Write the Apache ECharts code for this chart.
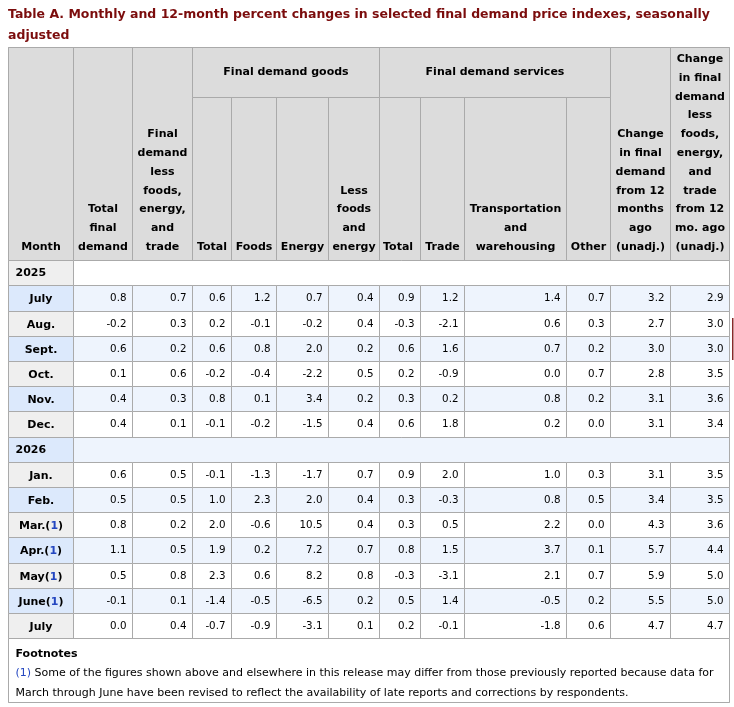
<!DOCTYPE html>
<html>
<head>
<meta charset="utf-8">
<title>Table A. Final demand price indexes</title>
<script src="https://cdn.jsdelivr.net/npm/echarts@6.0.0/dist/echarts.min.js"></script>
<style>
  html, body { margin: 0; padding: 0; background: #fff; }
  #chart { width: 734px; height: 707px; }
</style>
</head>
<body>
<div id="chart"></div>
<script>
// months shown in the table (July 2025 .. July 2026)
const months2025 = ["July", "Aug.", "Sept.", "Oct.", "Nov.", "Dec."];
const months2026 = ["Jan.", "Feb.", "Mar.", "Apr.", "May", "June", "July"];
// 2026 months marked with footnote (1)
const revisedMonths = ["Mar.", "Apr.", "May", "June"];

// one array per column, in month order
const totalFinalDemand = [0.8, -0.2, 0.6, 0.1, 0.4, 0.4, 0.6, 0.5, 0.8, 1.1, 0.5, -0.1, 0.0];
const lessFoodsEnergyTrade = [0.7, 0.3, 0.2, 0.6, 0.3, 0.1, 0.5, 0.5, 0.2, 0.5, 0.8, 0.1, 0.4];
const goodsTotal = [0.6, 0.2, 0.6, -0.2, 0.8, -0.1, -0.1, 1.0, 2.0, 1.9, 2.3, -1.4, -0.7];
const goodsFoods = [1.2, -0.1, 0.8, -0.4, 0.1, -0.2, -1.3, 2.3, -0.6, 0.2, 0.6, -0.5, -0.9];
const goodsEnergy = [0.7, -0.2, 2.0, -2.2, 3.4, -1.5, -1.7, 2.0, 10.5, 7.2, 8.2, -6.5, -3.1];
const goodsLessFoodsEnergy = [0.4, 0.4, 0.2, 0.5, 0.2, 0.4, 0.7, 0.4, 0.4, 0.7, 0.8, 0.2, 0.1];
const servicesTotal = [0.9, -0.3, 0.6, 0.2, 0.3, 0.6, 0.9, 0.3, 0.3, 0.8, -0.3, 0.5, 0.2];
const servicesTrade = [1.2, -2.1, 1.6, -0.9, 0.2, 1.8, 2.0, -0.3, 0.5, 1.5, -3.1, 1.4, -0.1];
const servicesTransport = [1.4, 0.6, 0.7, 0.0, 0.8, 0.2, 1.0, 0.8, 2.2, 3.7, 2.1, -0.5, -1.8];
const servicesOther = [0.7, 0.3, 0.2, 0.7, 0.2, 0.0, 0.3, 0.5, 0.0, 0.1, 0.7, 0.2, 0.6];
const change12Months = [3.2, 2.7, 3.0, 2.8, 3.1, 3.1, 3.1, 3.4, 4.3, 5.7, 5.9, 5.5, 4.7];
const changeCore12Months = [2.9, 3.0, 3.0, 3.5, 3.6, 3.4, 3.5, 3.5, 3.6, 4.4, 5.0, 5.0, 4.7];

const valueColumns = [
  totalFinalDemand, lessFoodsEnergyTrade,
  goodsTotal, goodsFoods, goodsEnergy, goodsLessFoodsEnergy,
  servicesTotal, servicesTrade, servicesTransport, servicesOther,
  change12Months, changeCore12Months
];

const footnoteLines = [
  "Some of the figures shown above and elsewhere in this release may differ from those previously reported because data for",
  "March through June have been revised to reflect the availability of late reports and corrections by respondents."
];

const FONT = "DejaVu Sans, Verdana, sans-serif";
const BORDER = "#aaaaaa";
const HEAD_BG = "#dcdcdc";
const MONTH_GRAY = "#efefef";
const MONTH_BLUE = "#dce9fc";
const ROW_BLUE = "#eef4fd";
const LINK = "#2346c0";

// column widths (px) and row height
const colW = [65.5, 59, 59.5, 39.5, 45, 52, 51, 41, 44, 102, 44, 59.5, 59];
const rowH = 25.2;

const headLabel = { position: "insideBottom", distance: 2, lineHeight: 18.8, lineOverflow: "none", overflow: "none" };

const xData = [
  { value: "Month", size: colW[0], label: headLabel },
  { value: "Total\nfinal\ndemand", size: colW[1], label: headLabel },
  { value: "Final\ndemand\nless\nfoods,\nenergy,\nand\ntrade", size: colW[2], label: headLabel },
  {
    value: "Final demand goods",
    children: [
      { value: "Total", size: colW[3], label: headLabel },
      { value: "Foods", size: colW[4], label: headLabel },
      { value: "Energy", size: colW[5], label: headLabel },
      { value: "Less\nfoods\nand\nenergy", size: colW[6], label: headLabel }
    ]
  },
  {
    value: "Final demand services",
    children: [
      { value: "Total ", size: colW[7], label: headLabel },
      { value: "Trade", size: colW[8], label: headLabel },
      { value: "Transportation\nand\nwarehousing", size: colW[9], label: headLabel },
      { value: "Other", size: colW[10], label: headLabel }
    ]
  },
  { value: "Change\nin final\ndemand\nfrom 12\nmonths\nago\n(unadj.)", size: colW[11], label: headLabel },
  { value: "Change\nin final\ndemand\nless\nfoods,\nenergy,\nand\ntrade\nfrom 12\nmo. ago\n(unadj.)", size: colW[12], label: headLabel }
];

// rows: year rows, month rows, footnote row
const rows = [];
rows.push({ year: "2025" });
months2025.forEach((m) => rows.push({ month: m, revised: false }));
rows.push({ year: "2026" });
months2026.forEach((m) => rows.push({ month: m, revised: revisedMonths.indexOf(m) >= 0 }));

const yData = rows.map((r, i) => ({ value: "r" + i, size: rowH }));
yData.push({ value: "notes", size: 64 });

// rich text is laid out from the top of the cell, so a near full-row line height centres it
const monthRich = {
  b: { fontFamily: FONT, fontWeight: "bold", fontSize: 11, color: "#000", lineHeight: 23 },
  l: { fontFamily: FONT, fontWeight: "bold", fontSize: 11, color: LINK, lineHeight: 23 }
};

const cells = [];
let k = 0;
rows.forEach((row, r) => {
  const blue = r % 2 === 1;
  const dataBg = blue ? ROW_BLUE : "#ffffff";
  const monthBg = blue ? MONTH_BLUE : MONTH_GRAY;
  if (row.year) {
    cells.push({
      coord: [0, r],
      value: row.year,
      itemStyle: { color: monthBg },
      label: { position: "insideLeft", distance: 4, fontWeight: "bold", fontSize: 11 }
    });
    cells.push({
      coord: [[1, 12], r],
      mergeCells: true,
      value: " ",
      itemStyle: { color: dataBg }
    });
    return;
  }
  cells.push({
    coord: [0, r],
    value: row.revised ? "{b|" + row.month + "(}{l|1}{b|)}" : "{b|" + row.month + "}",
    itemStyle: { color: monthBg },
    label: { position: "inside", rich: monthRich }
  });
  valueColumns.forEach((col, c) => {
    cells.push({
      coord: [c + 1, r],
      value: col[k].toFixed(1),
      itemStyle: { color: dataBg },
      label: { position: "insideRight", distance: 3 }
    });
  });
  k++;
});

cells.push({
  coord: [[0, 12], rows.length],
  mergeCells: true,
  value: "{h|Footnotes}\n{l|(1)}{t| " + footnoteLines[0] + "}\n{t|" + footnoteLines[1] + "}",
  itemStyle: { color: "#ffffff" },
  label: {
    position: "insideTopLeft",
    distance: 4,
    lineOverflow: "none",
    rich: {
      h: { fontFamily: FONT, fontWeight: "bold", fontSize: 11, color: "#000", lineHeight: 19 },
      l: { fontFamily: FONT, fontSize: 11, color: LINK, lineHeight: 20 },
      t: { fontFamily: FONT, fontSize: 11, color: "#000", lineHeight: 20 }
    }
  }
});

const chart = echarts.init(document.getElementById("chart"), null, { renderer: "canvas" });

chart.setOption({
  animation: false,
  title: {
    text: "Table A. Monthly and 12-month percent changes in selected final demand price indexes, seasonally\nadjusted",
    left: 8,
    top: 4,
    padding: 0,
    textStyle: { fontFamily: FONT, fontSize: 12.5, fontWeight: "bold", color: "#7b0c0c", lineHeight: 21 }
  },
  matrix: {
    left: 8,
    top: 47.5,
    width: 721,
    height: 50 + 163 + rowH * rows.length + 64,
    backgroundStyle: { color: "#ffffff", borderColor: BORDER, borderWidth: 1 },
    x: {
      data: xData,
      levels: [{ levelSize: 50 }, { levelSize: 163 }],
      label: { fontFamily: FONT, fontSize: 11, fontWeight: "bold", color: "#000", overflow: "none", lineOverflow: "none" },
      itemStyle: { color: HEAD_BG, borderColor: BORDER, borderWidth: 1 },
      dividerLineStyle: { color: BORDER, width: 1 }
    },
    y: {
      show: false,
      data: yData
    },
    body: {
      data: cells,
      label: { fontFamily: FONT, fontSize: 10.3, color: "#000", overflow: "none", lineOverflow: "none" },
      itemStyle: { borderColor: BORDER, borderWidth: 1 }
    }
  },
  graphic: [
    {
      type: "rect",
      shape: { x: 732, y: 318, width: 1.5, height: 42 },
      style: { fill: "#8a2a2a" }
    }
  ]
});
</script>
</body>
</html>
